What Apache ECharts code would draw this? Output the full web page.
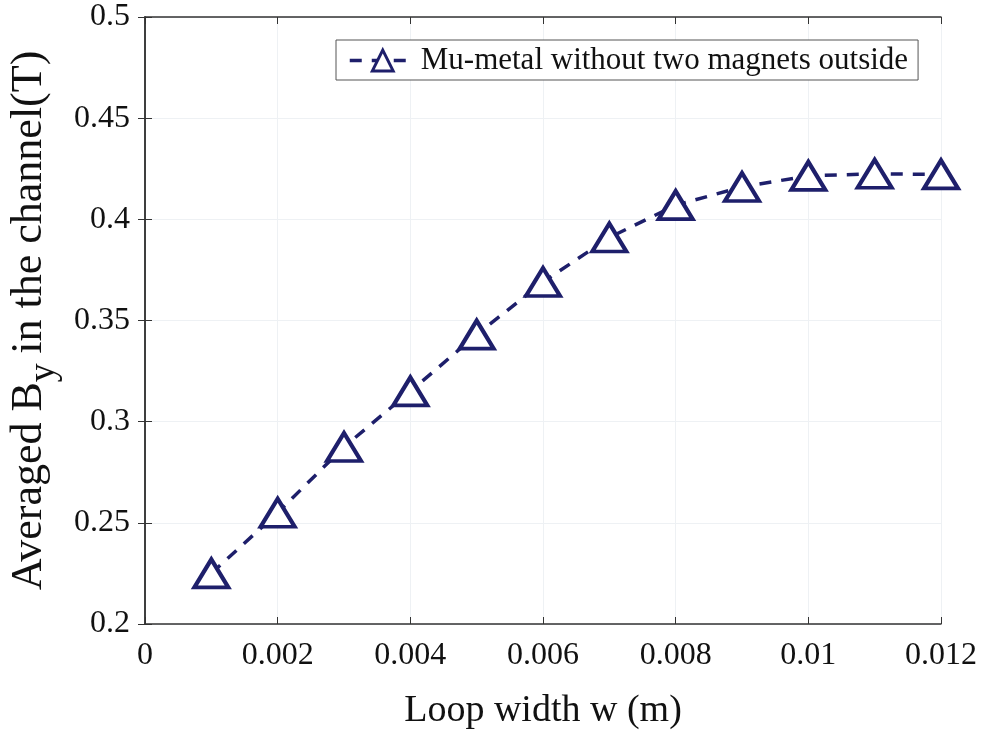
<!DOCTYPE html>
<html>
<head>
<meta charset="utf-8">
<script src="https://cdn.jsdelivr.net/npm/echarts@6/dist/echarts.min.js"></script>
<style>
  html, body { margin: 0; padding: 0; background: #fff; }
  #chart { width: 985px; height: 735px; }
</style>
</head>
<body>
<div id="chart"></div>
<script>
// loop width (m) and averaged By (T)
const loopWidth = [0.001, 0.002, 0.003, 0.004, 0.005, 0.006, 0.007, 0.008, 0.009, 0.010, 0.011, 0.012];
const byValues = [0.225, 0.255, 0.2875, 0.315, 0.343, 0.369, 0.391, 0.407, 0.416, 0.4215, 0.4225, 0.4222];
const seriesName = 'Mu-metal without two magnets outside';

const navy = '#1e1f6b';
const axisColor = '#333';
const font = 'Liberation Serif';

const chart = echarts.init(document.getElementById('chart'));

const tickLabel = (v) => {
  if (v === 0) return '0';
  return String(+v.toFixed(4));
};

chart.setOption({
  animation: false,
  backgroundColor: '#fff',
  grid: { left: 145, right: 44, top: 17, bottom: 111, outerBoundsMode: 'none' },
  legend: {
    data: [seriesName],
    left: 336,
    top: 40,
    itemWidth: 66,
    itemHeight: 26,
    itemGap: 4,
    padding: [5, 10, 4, 12],
    borderColor: '#555',
    borderWidth: 1,
    backgroundColor: '#fff',
    itemStyle: { borderWidth: 3 },
    lineStyle: { width: 3.5 },
    textStyle: { fontFamily: font, fontSize: 31, color: '#111' }
  },
  xAxis: [{
    type: 'value',
    min: 0, max: 0.012, interval: 0.002,
    name: 'Loop width w (m)',
    nameLocation: 'middle',
    nameGap: 68,
    nameTextStyle: { fontFamily: font, fontSize: 38, color: '#111' },
    axisLine: { lineStyle: { color: axisColor, width: 1.5 } },
    axisTick: { inside: true, length: 7, lineStyle: { color: axisColor } },
    axisLabel: { fontFamily: font, fontSize: 32, color: '#111', margin: 16, formatter: tickLabel },
    splitLine: { show: true, lineStyle: { color: '#eef1f4', width: 1 } }
  }, {
    type: 'value',
    position: 'top',
    min: 0, max: 0.012, interval: 0.002,
    axisLine: { show: true, lineStyle: { color: axisColor, width: 1.5 } },
    axisTick: { inside: true, length: 7, lineStyle: { color: axisColor } },
    axisLabel: { show: false },
    splitLine: { show: false }
  }],
  yAxis: [{
    type: 'value',
    min: 0.2, max: 0.5, interval: 0.05,
    name: '{a|Averaged B}{s|y }{a|in the channel(T)}',
    nameLocation: 'middle',
    nameGap: 82,
    nameRotate: 90,
    nameTextStyle: {
      fontFamily: font, fontSize: 44, color: '#111',
      rich: {
        a: { fontFamily: font, fontSize: 44, color: '#111', lineHeight: 56, verticalAlign: 'top' },
        s: { fontFamily: font, fontSize: 38, color: '#111', lineHeight: 56, verticalAlign: 'bottom' }
      }
    },
    axisLine: { show: true, lineStyle: { color: axisColor, width: 1.5 } },
    axisTick: { show: true, inside: true, length: 7, lineStyle: { color: axisColor } },
    axisLabel: { fontFamily: font, fontSize: 32, color: '#111', margin: 15, formatter: tickLabel },
    splitLine: { show: true, lineStyle: { color: '#eef1f4', width: 1 } }
  }, {
    type: 'value',
    position: 'right',
    min: 0.2, max: 0.5, interval: 0.05,
    axisLine: { show: true, lineStyle: { color: axisColor, width: 1.5 } },
    axisTick: { show: true, inside: true, length: 7, lineStyle: { color: axisColor } },
    axisLabel: { show: false },
    splitLine: { show: false }
  }],
  series: [{
    name: seriesName,
    type: 'line',
    xAxisIndex: 0,
    yAxisIndex: 0,
    data: loopWidth.map((x, i) => [x, byValues[i]]),
    symbol: 'triangle',
    symbolSize: [34, 28],
    showAllSymbol: true,
    lineStyle: { color: navy, width: 3.5, type: [12, 10] },
    itemStyle: { color: '#fff', borderColor: navy, borderWidth: 4 },
    z: 3
  }]
});
</script>
</body>
</html>
